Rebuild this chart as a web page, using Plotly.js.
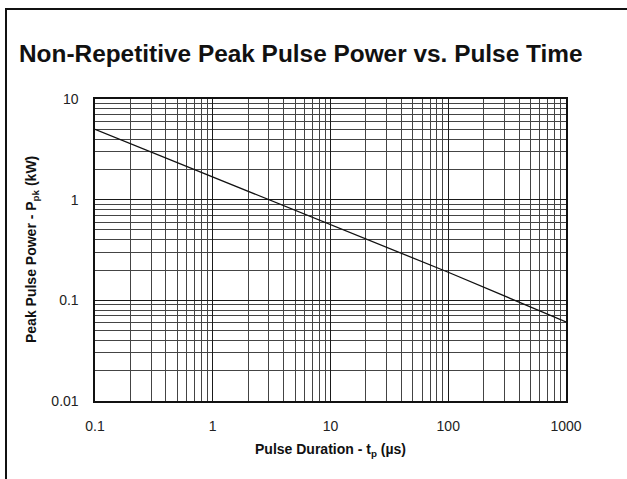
<!DOCTYPE html>
<html>
<head>
<meta charset="utf-8">
<script src="https://cdn.plot.ly/plotly-3.0.1.min.js"></script>
<style>
  html, body { margin: 0; padding: 0; background: #fff; }
  #wrap { position: relative; width: 627px; height: 479px; overflow: hidden; }
  #chart { position: absolute; left: 0; top: 0; width: 627px; height: 479px; }
  #frame { position: absolute; left: 5px; top: 8px; width: 640px; height: 500px;
           border-left: 2.5px solid #111; border-top: 2.5px solid #111; pointer-events: none; }
</style>
</head>
<body>
<div id="wrap">
  <div id="chart"></div>
  <div id="frame"></div>
</div>
<script>
// Data
const pulseDuration = [0.1, 1, 10, 100, 1000];          // µs
const peakPower     = [5.0, 1.68, 0.57, 0.19, 0.061];    // kW

const xTickVals = [0.1, 1, 10, 100, 1000];
const xTickText = ['0.1', '1', '10', '100', '1000'];
const yTickVals = [0.01, 0.1, 1, 10];
const yTickText = ['0.01', '0.1', '1', '10'];

const titleText = 'Non-Repetitive Peak Pulse Power vs. Pulse Time';
const xTitle = 'Pulse Duration - t<sub>p</sub> (µs)';
const yTitle = 'Peak Pulse Power - P<sub>pk</sub> (kW)';

const FONT = 'Liberation Sans, Arial, sans-serif';

const trace = {
  x: pulseDuration,
  y: peakPower,
  type: 'scatter',
  mode: 'lines',
  line: { color: '#111', width: 1.3 },
  hoverinfo: 'skip'
};

const axisCommon = {
  type: 'log',
  showline: true,
  mirror: true,
  linecolor: '#111',
  linewidth: 1.6,
  showgrid: true,
  gridcolor: '#1a1a1a',
  gridwidth: 1,
  zeroline: false,
  ticks: '',
  tickmode: 'array',
  tickfont: { family: FONT, size: 14, color: '#222' },
  minor: { dtick: 'D1', showgrid: true, gridcolor: '#444', gridwidth: 1, ticks: '' }
};

const layout = {
  width: 627,
  height: 479,
  paper_bgcolor: '#fff',
  plot_bgcolor: '#fff',
  showlegend: false,
  margin: { l: 95, r: 61, t: 99, b: 78 },
  title: {
    text: '<b>' + titleText + '</b>',
    font: { family: FONT, size: 24.4, color: '#111' },
    x: 19 / 627, xanchor: 'left', xref: 'container',
    y: 1 - 53 / 479, yanchor: 'middle', yref: 'container'
  },
  xaxis: Object.assign({}, axisCommon, {
    range: [-1, 3],
    tickvals: xTickVals,
    ticktext: xTickText,
    ticklabelstandoff: 12
  }),
  yaxis: Object.assign({}, axisCommon, {
    range: [-2, 1],
    tickvals: yTickVals,
    ticktext: yTickText,
    ticklabelstandoff: 12
  }),
  annotations: [
    {
      text: '<b>' + xTitle + '</b>',
      xref: 'paper', yref: 'paper',
      x: 0.5, y: -(450 - 401) / 302,
      xanchor: 'center', yanchor: 'middle',
      showarrow: false,
      font: { family: FONT, size: 14, color: '#111' }
    },
    {
      text: '<b>' + yTitle + '</b>',
      xref: 'paper', yref: 'paper',
      x: -(95 - 32) / 471, y: 0.5,
      xanchor: 'center', yanchor: 'middle',
      textangle: -90,
      showarrow: false,
      font: { family: FONT, size: 14, color: '#111' }
    }
  ]
};

Plotly.newPlot('chart', [trace], layout, { staticPlot: true, displayModeBar: false });
</script>
</body>
</html>
